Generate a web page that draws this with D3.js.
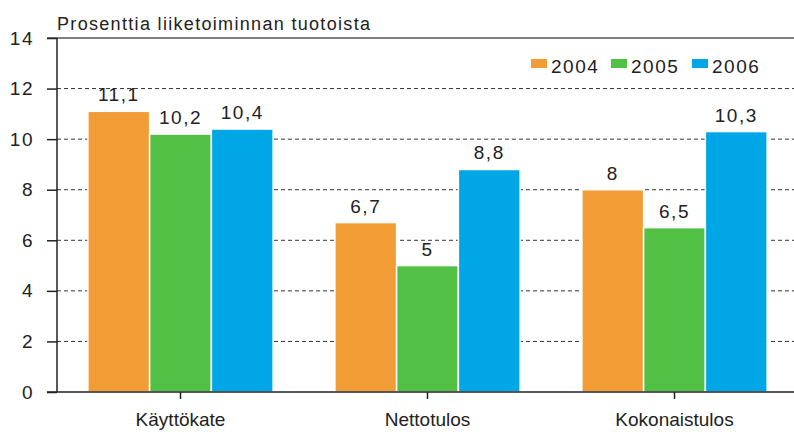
<!DOCTYPE html>
<meta charset="utf-8">
<style>
body { margin: 0; background: #fff; }
svg text { font-family: "Liberation Sans", Arial, sans-serif; fill: #222; }
.num { font-size: 19px; letter-spacing: 1.5px; }
.cat { font-size: 19px; }
</style>
<body>
<svg width="794" height="432"></svg>
<script src="https://d3js.org/d3.v7.min.js"></script>
<script>
var categories = ["Käyttökate", "Nettotulos", "Kokonaistulos"];
var years = ["2004", "2005", "2006"];
var values2004 = [11.1, 6.7, 8];
var values2005 = [10.2, 5, 6.5];
var values2006 = [10.4, 8.8, 10.3];
var yTicks = [0, 2, 4, 6, 8, 10, 12, 14];
var colors = ["#f29c35", "#52bf45", "#00a6e6"];

var series = [values2004, values2005, values2006];
var data = categories.map(function(c, i) {
  return { cat: c, vals: series.map(function(s, j) { return { year: years[j], v: s[i] }; }) };
});

var svg = d3.select("svg");
var plotLeft = 57, plotRight = 798, plotTop = 38, plotBottom = 392;

var x0 = d3.scaleBand().domain(categories).range([plotLeft, plotRight]).paddingInner(0.25).paddingOuter(0.125);
var x1 = d3.scaleBand().domain(years).range([0, x0.bandwidth()]);
var y = d3.scaleLinear().domain([0, 14]).range([plotBottom, plotTop]);
var fmt = function(v) { return String(v).replace(".", ","); };

// gridlines
svg.append("g").selectAll("line")
  .data(yTicks.filter(function(t) { return t > 0 && t < 14; }))
  .enter().append("line")
    .attr("x1", plotLeft).attr("x2", 794)
    .attr("y1", function(d) { return y(d); }).attr("y2", function(d) { return y(d); })
    .attr("stroke", "#333").attr("stroke-dasharray", "4,3");

// top line
svg.append("line")
  .attr("x1", plotLeft - 10).attr("x2", 794)
  .attr("y1", y(14)).attr("y2", y(14))
  .attr("stroke", "#555").attr("stroke-width", 1.5);

// bars
var groups = svg.append("g").selectAll("g")
  .data(data).enter().append("g")
    .attr("transform", function(d) { return "translate(" + x0(d.cat) + ",0)"; });

groups.selectAll("rect")
  .data(function(d) { return d.vals; })
  .enter().append("rect")
    .attr("x", function(d) { return x1(d.year); })
    .attr("y", function(d) { return y(d.v); })
    .attr("width", x1.bandwidth())
    .attr("height", function(d) { return plotBottom - y(d.v); })
    .attr("fill", function(d, i) { return colors[i]; })
    .attr("stroke", "#fff").attr("stroke-width", 1.5);

groups.selectAll("text")
  .data(function(d) { return d.vals; })
  .enter().append("text")
    .attr("class", "num")
    .attr("x", function(d) { return x1(d.year) + x1.bandwidth() / 2; })
    .attr("y", function(d) { return y(d.v) - 10; })
    .attr("text-anchor", "middle")
    .text(function(d) { return fmt(d.v); });

// y axis
var yAxis = svg.append("g")
  .attr("transform", "translate(" + plotLeft + ",0)")
  .call(d3.axisLeft(y).tickValues(yTicks).tickSize(10).tickPadding(13).tickFormat(d3.format("d")));
yAxis.select(".domain").attr("stroke", "#222").attr("stroke-width", 1.5).attr("d", "M0," + plotTop + "V" + plotBottom);
yAxis.selectAll(".tick line").attr("stroke", "#222").attr("stroke-width", 1.5);
yAxis.selectAll(".tick text").attr("class", "num").attr("font-size", null).attr("font-family", null).attr("fill", "#222");

// x axis
var xAxis = svg.append("g")
  .attr("transform", "translate(0," + plotBottom + ")")
  .call(d3.axisBottom(x0).tickSize(7).tickPadding(14));
xAxis.select(".domain").attr("stroke", "#222").attr("stroke-width", 1.5).attr("d", "M" + (plotLeft - 10) + ",0H794");
xAxis.selectAll(".tick line").attr("stroke", "#222").attr("stroke-width", 1.5);
xAxis.selectAll(".tick text").attr("class", "cat").attr("font-size", null).attr("font-family", null).attr("fill", "#222");

// title
svg.append("text")
  .attr("x", plotLeft).attr("y", 30)
  .attr("font-size", 18)
  .attr("textLength", 313).attr("lengthAdjust", "spacing")
  .text("Prosenttia liiketoiminnan tuotoista");

// legend
var legX = [531, 611, 692];
var legend = svg.append("g").selectAll("g")
  .data(years).enter().append("g")
    .attr("transform", function(d, i) { return "translate(" + legX[i] + ",0)"; });
legend.append("rect")
  .attr("x", 0).attr("y", 59).attr("width", 16).attr("height", 9)
  .attr("fill", function(d, i) { return colors[i]; });
legend.append("text")
  .attr("class", "num")
  .attr("x", 20).attr("y", 73)
  .text(function(d) { return d; });
</script>
</body>
